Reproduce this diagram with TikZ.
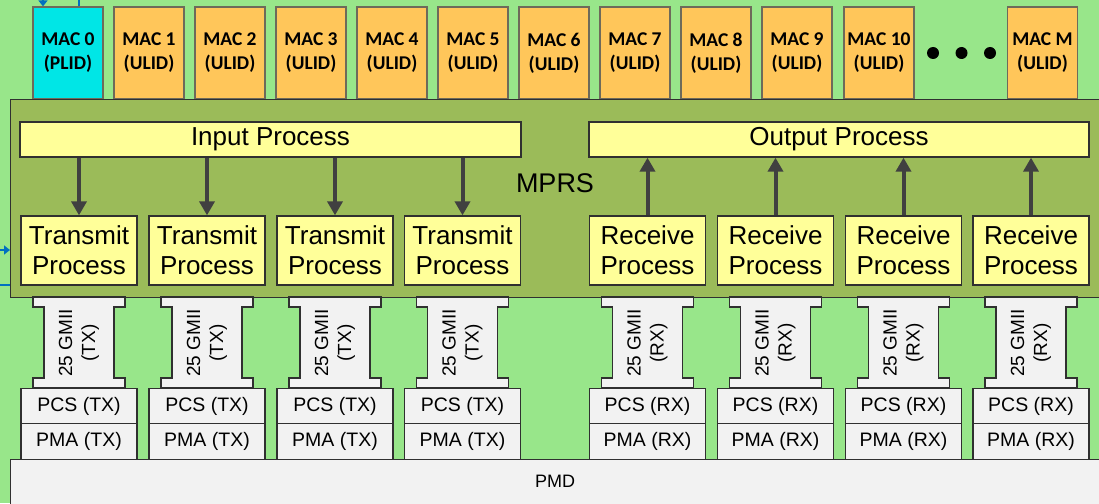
\documentclass[tikz,border=0pt]{standalone}
\usepackage{fontspec}
\setmainfont{Liberation Sans}
\newfontfamily\macfont{Carlito}
\usetikzlibrary{arrows.meta}
\definecolor{bggreen}{HTML}{98E68A}
\definecolor{olive}{HTML}{9BBB59}
\definecolor{paleyellow}{HTML}{FFFF99}
\definecolor{plidcyan}{HTML}{00E6E6}
\definecolor{ulidorange}{HTML}{FFC65A}
\definecolor{lightgray}{HTML}{F2F2F2}
\definecolor{edge}{HTML}{303030}
\definecolor{macedge}{HTML}{6E6A5A}
\definecolor{arrowgray}{HTML}{404040}
\definecolor{linkblue}{HTML}{0070C0}
\tikzset{
  macbox/.style={draw=macedge, line width=1.2pt, minimum width=70, minimum height=92,
    inner sep=0pt, align=center, font=\macfont\bfseries\fontsize{19.5}{24}\selectfont},
  ybox/.style={draw=edge, fill=paleyellow, line width=1.3pt, inner sep=0pt, align=center,
    font=\fontsize{26}{30}\selectfont},
  gbox/.style={draw=edge, fill=lightgray, line width=1.2pt, inner sep=0pt,
    minimum width=116, minimum height=35.5, font=\fontsize{19.5}{22}\selectfont},
  gmii/.style={draw=edge, fill=lightgray, line width=1.2pt},
  gtext/.style={rotate=90, align=center, inner sep=0pt, font=\fontsize{19}{23}\selectfont},
  arr/.style={draw=arrowgray, line width=4pt, -{Triangle[width=15pt,length=14pt]}},
  bluelink/.style={draw=linkblue, line width=2.5pt},
  bluearr/.style={bluelink, -{Triangle[width=9pt,length=6pt]}},
  dot/.style={circle, fill=black, minimum size=12, inner sep=0pt}
}
\begin{document}
\begin{tikzpicture}[x=1pt,y=-1pt]
\useasboundingbox (0,0) rectangle (1099,503);
\fill[bggreen] (0,0) rectangle (1099,503);
\clip (0,0) rectangle (1099,503);

% MAC clients above the MPRS
\node[macbox, fill=plidcyan] (m0) at (68,53) {MAC 0\\(PLID)};
\foreach \i/\cx in {1/149,2/230,3/311,4/392,5/473,6/554,7/635,8/716,9/797,10/879}
  \node[macbox, fill=ulidorange] (m\i) at (\cx,53) {MAC \i\\(ULID)};
\node[macbox, fill=ulidorange] (mM) at (1042.5,53) {MAC M\\(ULID)};
\node[dot] (d1) at (933,53) {};
\node[dot] (d2) at (961.5,53) {};
\node[dot] (d3) at (990,53) {};

% MPRS and PMD bands
\node[draw=edge, fill=olive, line width=1.3pt, minimum width=1110, minimum height=198,
  inner sep=0pt, anchor=north west] (mprs) at (10,99) {};
\node[font=\fontsize{27}{30}\selectfont] (mprslabel) at (555,183) {MPRS};
\node[draw=edge, fill=lightgray, line width=1.3pt, minimum width=1110, minimum height=60,
  inner sep=0pt, anchor=north west] (pmd) at (10,459) {};
\node[font=\fontsize{18}{20}\selectfont] (pmdlabel) at (555,481) {PMD};

% external links
\coordinate (topA) at (43,-1);
\coordinate (topB) at (79,-1);
\coordinate (leftA) at (-1,250);
\coordinate (leftB) at (-1,285);
\draw[bluearr] (topA) -- (topA |- m0.north);
\draw[bluelink] (topB) -- (topB |- m0.north);
\draw[bluearr] (leftA) -- (leftA -| mprs.west);
\draw[bluelink] (leftB) -- (leftB -| mprs.west);

% input and output processes
\node[ybox, minimum width=501, minimum height=35] (ip) at (270.5,139.5) {Input Process};
\node[ybox, minimum width=500, minimum height=35] (op) at (839,139.5) {Output Process};

% transmit paths
\foreach \i/\cx in {1/79,2/207,3/335,4/462.5} {
  \node[ybox, minimum width=116, minimum height=69] (t\i) at (\cx,250.5) {Transmit\\Process};
  \draw[arr] (ip.south -| t\i.north) -- (t\i.north);
  \path[gmii] (\cx-46,297) -- (\cx+46,297) -- (\cx+46,307) -- (\cx+35,307) -- (\cx+35,378)
    -- (\cx+46,378) -- (\cx+46,388) -- (\cx-46,388) -- (\cx-46,378) -- (\cx-35,378)
    -- (\cx-35,307) -- (\cx-46,307) -- cycle;
  \node[gtext] (gt\i) at (\cx,343) {25 GMII\\(TX)};
  \node[gbox] (pcst\i) at (\cx,406) {PCS (TX)};
  \node[gbox] (pmat\i) at (\cx,441.5) {PMA (TX)};
}

% receive paths
\foreach \i/\cx in {1/647.5,2/775.5,3/903.5,4/1031} {
  \node[ybox, minimum width=116, minimum height=69] (r\i) at (\cx,250.5) {Receive\\Process};
  \draw[arr] (r\i.north) -- (r\i.north |- op.south);
  \path[gmii] (\cx-46,297) -- (\cx+46,297) -- (\cx+46,307) -- (\cx+35,307) -- (\cx+35,378)
    -- (\cx+46,378) -- (\cx+46,388) -- (\cx-46,388) -- (\cx-46,378) -- (\cx-35,378)
    -- (\cx-35,307) -- (\cx-46,307) -- cycle;
  \node[gtext] (gr\i) at (\cx,343) {25 GMII\\(RX)};
  \node[gbox] (pcsr\i) at (\cx,406) {PCS (RX)};
  \node[gbox] (pmar\i) at (\cx,441.5) {PMA (RX)};
}
\end{tikzpicture}
\end{document}
